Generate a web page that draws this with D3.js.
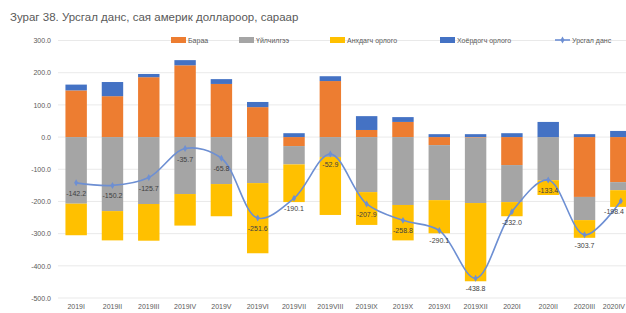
<!DOCTYPE html>
<html><head><meta charset="utf-8">
<script src="https://cdn.jsdelivr.net/npm/d3@7"></script>
<style>body{margin:0;background:#fff;overflow:hidden}svg{display:block;font-family:"Liberation Sans","Open Sans",sans-serif}</style>
</head><body><div id="chart"></div>
<script>
const categories = ["2019I","2019II","2019III","2019IV","2019V","2019VI","2019VII","2019VIII","2019IX","2019X","2019XI","2019XII","2020I","2020II","2020III","2020IV"];
const goods     = [145, 127, 186, 223, 165, 93, -28, 174, 22, 47, -25, -2, -87, 0, -186, -140];
const services  = [-207, -230, -208, -177, -146, -143, -57, -62, -171, -211, -171, -203, -115, -134, -72, -25];
const primary   = [-98, -91, -114, -98, -100, -218, -117, -180, -102, -110, -103, -243, -44, -46, -55, -52];
const secondary = [18, 44, 10, 16, 15, 16, 12, 15, 43, 15, 9, 9, 12, 47, 9, 19];
const currentAccount = [-142.2, -150.2, -125.7, -35.7, -65.8, -251.6, -190.1, -52.9, -207.9, -258.8, -290.1, -438.8, -232.0, -133.4, -303.7, -198.4];
const yTicks = [300, 200, 100, 0, -100, -200, -300, -400, -500];
const seriesNames = ["Бараа", "Үйлчилгээ", "Анхдагч орлого", "Хоёрдогч орлого"];
const lineName = "Урсгал данс";
const colors = ["#ed7d31", "#a5a5a5", "#ffc000", "#4472c4"];
const lineColor = "#6d8fd3";

const W = 626, H = 313;
const fmt = d => d3.format(".1f")(d).replace("\u2212", "-");
const svg = d3.select("#chart").append("svg").attr("width", W).attr("height", H);

const x = d3.scaleBand().domain(categories).range([58, 639]).paddingInner(0.41).paddingOuter(0.205);
const y = d3.scaleLinear().domain([-500, 300]).range([298, 40.5]);

// gridlines
svg.append("g").selectAll("line").data(yTicks).join("line")
  .attr("x1", 58).attr("x2", W).attr("y1", d => y(d)).attr("y2", d => y(d))
  .attr("stroke", "#e3e3e3").attr("stroke-width", 0.8);

// y axis
const yAxis = d3.axisLeft(y).tickValues(yTicks).tickSize(0).tickFormat(fmt);
svg.append("g").attr("transform", "translate(54,0)").call(yAxis)
  .call(g => g.select(".domain").remove())
  .call(g => g.selectAll("text").attr("fill", "#595959").attr("font-size", 7));

// x axis labels
const xAxis = d3.axisBottom(x).tickSize(0);
svg.append("g").attr("transform", "translate(0,300)").call(xAxis)
  .call(g => g.select(".domain").remove())
  .call(g => g.selectAll("text").attr("fill", "#595959").attr("font-size", 7).attr("dy", "0.9em")
    .attr("text-anchor", d => d === categories[categories.length - 1] ? "end" : "middle")
    .attr("dx", d => d === categories[categories.length - 1] ? W - 1 - (x(d) + x.bandwidth() / 2) : 0));

// stacked bars
const rows = categories.map((c, i) => ({cat: c, s0: goods[i], s1: services[i], s2: primary[i], s3: secondary[i]}));
const stack = d3.stack().keys(["s0", "s1", "s2", "s3"]).offset(d3.stackOffsetDiverging);
const layers = stack(rows);
svg.append("g").selectAll("g").data(layers).join("g")
  .attr("fill", (d, i) => colors[i])
  .selectAll("rect").data(d => d).join("rect")
  .attr("x", d => x(d.data.cat)).attr("width", x.bandwidth())
  .attr("y", d => y(Math.max(d[0], d[1])))
  .attr("height", d => Math.abs(y(d[0]) - y(d[1])));

// line
const pts = categories.map((c, i) => [x(c) + x.bandwidth() / 2, y(currentAccount[i])]);
svg.append("path").attr("d", d3.line().curve(d3.curveCatmullRom.alpha(0.5))(pts))
  .attr("fill", "none").attr("stroke", lineColor).attr("stroke-width", 1.6);
svg.append("g").selectAll("path").data(pts).join("path")
  .attr("transform", d => `translate(${d[0]},${d[1]})`)
  .attr("d", d3.symbol(d3.symbolDiamond, 14)).attr("fill", lineColor);
svg.append("g").selectAll("text").data(currentAccount).join("text")
  .attr("x", (d, i) => Math.min(pts[i][0], W - 12)).attr("y", (d, i) => pts[i][1] + 13)
  .attr("text-anchor", "middle").attr("font-size", 7).attr("fill", "#404040")
  .text(fmt);

// title
svg.append("text").attr("x", 10).attr("y", 21).attr("font-size", 11.5).attr("fill", "#595959")
  .text("Зураг 38. Урсгал данс, сая америк доллароор, сараар");

// legend
const legendItems = [
  {name: seriesNames[0], c: colors[0], x: 171},
  {name: seriesNames[1], c: colors[1], x: 239},
  {name: seriesNames[2], c: colors[2], x: 330},
  {name: seriesNames[3], c: colors[3], x: 440},
  {name: lineName, c: lineColor, x: 555, line: true}
];
const lg = svg.append("g");
legendItems.forEach(it => {
  if (it.line) {
    lg.append("line").attr("x1", it.x).attr("x2", it.x + 15).attr("y1", 40).attr("y2", 40)
      .attr("stroke", it.c).attr("stroke-width", 1.6);
    lg.append("path").attr("transform", `translate(${it.x + 7.5},40)`).attr("d", d3.symbol(d3.symbolDiamond, 14)).attr("fill", it.c);
  } else {
    lg.append("rect").attr("x", it.x).attr("y", 37).attr("width", 15).attr("height", 6).attr("fill", it.c);
  }
  lg.append("text").attr("x", it.x + 17).attr("y", 42.5).attr("font-size", 7).attr("fill", "#595959").text(it.name);
});
</script>
</body></html>
